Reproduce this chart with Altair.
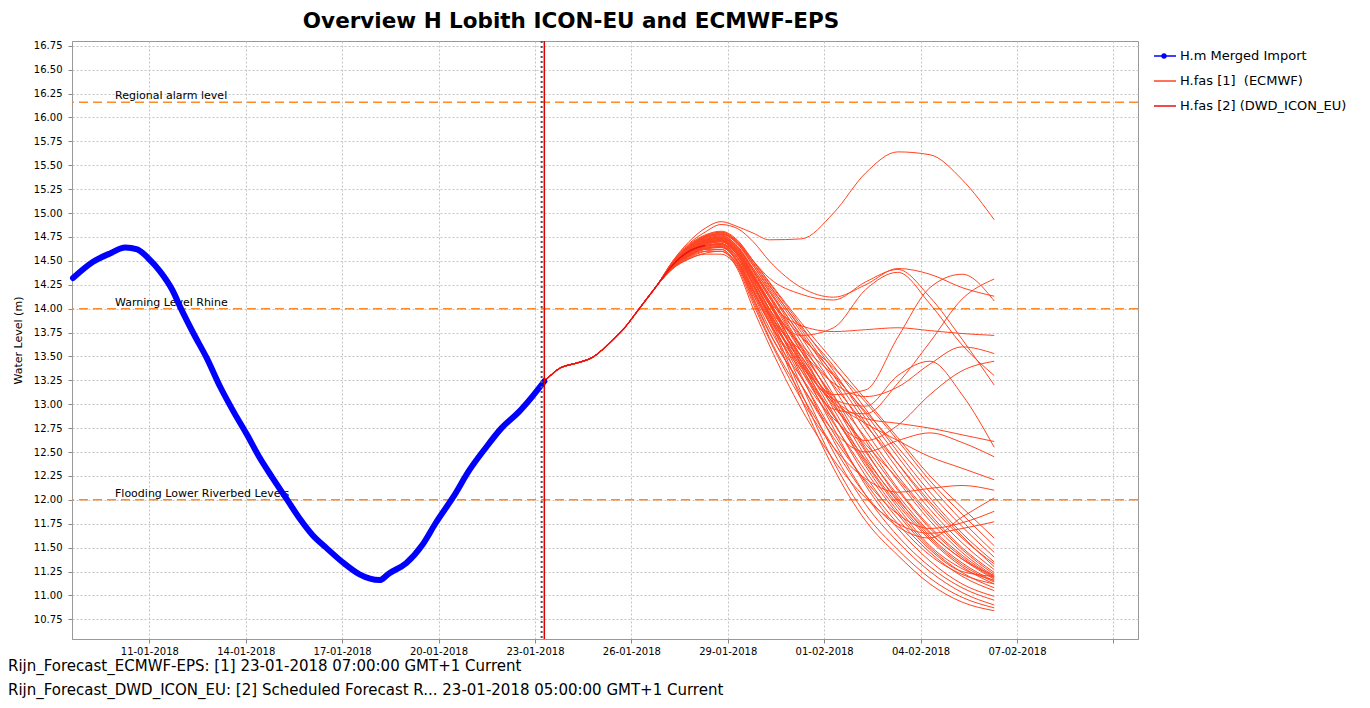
import altair as alt
import pandas as pd

TITLE = "Overview H Lobith ICON-EU and ECMWF-EPS"
SERIES = ["H.m Merged Import", "H.fas [1]\u00a0 (ECMWF)", "H.fas [2] (DWD_ICON_EU)"]
COLORS = ["#0000ff", "#ff4422", "#e81010"]
FONT = "DejaVu Sans"

# Observed water level (H.m Merged Import)
obs_times = ["2018-01-08T15:00", "2018-01-09T06:00", "2018-01-09T19:00", "2018-01-10T06:00",
             "2018-01-10T15:00", "2018-01-10T23:00", "2018-01-11T08:00", "2018-01-11T17:00",
             "2018-01-12T00:00", "2018-01-12T09:00", "2018-01-12T19:00", "2018-01-13T05:00",
             "2018-01-13T15:00", "2018-01-14T01:00", "2018-01-14T10:00", "2018-01-14T20:00",
             "2018-01-15T06:00", "2018-01-15T16:00", "2018-01-16T02:00", "2018-01-16T12:00",
             "2018-01-17T01:00", "2018-01-17T13:00", "2018-01-18T04:00", "2018-01-18T11:00",
             "2018-01-19T00:00", "2018-01-19T12:00", "2018-01-19T22:00", "2018-01-20T11:00",
             "2018-01-20T23:00", "2018-01-21T11:00", "2018-01-21T23:00", "2018-01-22T12:00",
             "2018-01-22T22:00", "2018-01-23T07:00"]
obs_values = [14.32, 14.49, 14.58, 14.64, 14.62, 14.53, 14.39, 14.20,
              13.99, 13.74, 13.48, 13.18, 12.92, 12.68, 12.45, 12.23,
              12.02, 11.81, 11.63, 11.50, 11.34, 11.22, 11.16, 11.23,
              11.34, 11.53, 11.76, 12.03, 12.31, 12.54, 12.75, 12.92,
              13.08, 13.24]

# ECMWF-EPS: common start of all members
trunk_times = ["2018-01-23T07:00", "2018-01-23T19:00", "2018-01-24T07:00", "2018-01-24T19:00",
               "2018-01-25T07:00", "2018-01-25T19:00", "2018-01-26T07:00", "2018-01-26T19:00"]
trunk_values = [13.24, 13.38, 13.43, 13.49, 13.63, 13.80, 14.02, 14.24]

member_times = ["2018-01-27T07:00", "2018-01-27T19:00", "2018-01-28T07:00", "2018-01-28T19:00",
                "2018-01-29T07:00", "2018-01-29T19:00", "2018-01-30T07:00", "2018-01-31T07:00",
                "2018-02-01T07:00", "2018-02-02T07:00", "2018-02-03T07:00", "2018-02-04T07:00",
                "2018-02-05T07:00", "2018-02-06T07:00"]

members_upper = [
    [14.50, 14.70, 14.84, 14.91, 14.86, 14.79, 14.72, 14.73, 15.00, 15.42, 15.64, 15.61, 15.35, 14.93],
    [14.50, 14.68, 14.80, 14.88, 14.84, 14.70, 14.50, 14.22, 14.12, 14.25, 14.42, 14.36, 14.22, 14.13],
    [14.48, 14.64, 14.74, 14.78, 14.70, 14.50, 14.32, 14.15, 14.09, 14.28, 14.41, 14.12, 13.68, 13.20],
    [14.46, 14.59, 14.67, 14.70, 14.57, 14.25, 13.95, 13.50, 13.10, 13.15, 13.70, 14.22, 14.36, 14.08],
    [14.45, 14.57, 14.65, 14.67, 14.52, 14.18, 13.85, 13.35, 12.95, 12.90, 13.22, 13.65, 14.10, 14.31],
    [14.47, 14.63, 14.72, 14.74, 14.62, 14.35, 14.08, 13.82, 13.76, 13.78, 13.80, 13.77, 13.74, 13.72],
    [14.46, 14.59, 14.67, 14.70, 14.57, 14.25, 13.95, 13.55, 13.22, 13.08, 13.18, 13.42, 13.60, 13.53],
    [14.47, 14.61, 14.70, 14.72, 14.60, 14.30, 14.00, 13.72, 13.80, 14.20, 14.38, 14.05, 13.62, 13.30],
    [14.44, 14.55, 14.63, 14.65, 14.50, 14.15, 13.80, 13.28, 12.85, 12.62, 12.78, 13.10, 13.35, 13.45],
]
members_middle = [
    [14.46, 14.60, 14.69, 14.72, 14.58, 14.25, 13.92, 13.45, 13.05, 12.85, 12.80, 12.75, 12.68, 12.61],
    [14.44, 14.56, 14.63, 14.65, 14.48, 14.10, 13.75, 13.20, 12.72, 12.50, 12.62, 12.70, 12.60, 12.45],
    [14.45, 14.58, 14.66, 14.68, 14.54, 14.20, 13.86, 13.40, 13.02, 12.80, 12.62, 12.45, 12.33, 12.21],
    [14.43, 14.53, 14.60, 14.62, 14.44, 14.05, 13.68, 13.05, 12.55, 12.22, 12.08, 12.12, 12.15, 12.10],
    [14.44, 14.57, 14.64, 14.66, 14.50, 14.12, 13.76, 13.20, 12.65, 12.20, 11.85, 11.70, 11.76, 11.88],
    [14.42, 14.52, 14.58, 14.60, 14.42, 14.00, 13.62, 12.95, 12.42, 12.02, 11.75, 11.65, 11.70, 11.77],
    [14.44, 14.55, 14.62, 14.62, 14.46, 14.08, 13.70, 13.10, 12.55, 12.05, 11.72, 11.60, 11.82, 12.02],
    [14.46, 14.60, 14.69, 14.72, 14.58, 14.26, 13.92, 13.42, 13.05, 12.98, 13.30, 13.45, 13.10, 12.55],
]
members_lower = [
    [14.42, 14.52, 14.57, 14.57, 14.44, 14.15, 13.85, 13.05, 12.33, 11.78, 11.42, 11.12, 10.93, 10.84],
    [14.42, 14.54, 14.60, 14.60, 14.47, 14.18, 13.88, 13.12, 12.40, 11.85, 11.48, 11.18, 10.98, 10.87],
    [14.43, 14.56, 14.63, 14.64, 14.50, 14.22, 13.92, 13.20, 12.50, 11.95, 11.56, 11.25, 11.03, 10.90],
    [14.45, 14.59, 14.68, 14.70, 14.56, 14.28, 13.98, 13.30, 12.62, 12.05, 11.62, 11.30, 11.08, 10.95],
    [14.44, 14.57, 14.65, 14.68, 14.57, 14.32, 14.05, 13.40, 12.75, 12.15, 11.70, 11.36, 11.12, 10.99],
    [14.47, 14.62, 14.72, 14.74, 14.62, 14.36, 14.08, 13.45, 12.82, 12.25, 11.80, 11.45, 11.20, 11.05],
    [14.45, 14.60, 14.68, 14.72, 14.60, 14.34, 14.06, 13.48, 12.90, 12.35, 11.88, 11.50, 11.24, 11.08],
    [14.48, 14.64, 14.74, 14.77, 14.65, 14.40, 14.12, 13.55, 12.95, 12.40, 11.95, 11.58, 11.30, 11.12],
    [14.46, 14.61, 14.70, 14.74, 14.64, 14.40, 14.15, 13.60, 13.02, 12.45, 11.98, 11.60, 11.32, 11.14],
    [14.47, 14.63, 14.73, 14.76, 14.66, 14.42, 14.18, 13.65, 13.10, 12.52, 12.02, 11.62, 11.34, 11.15],
    [14.44, 14.58, 14.66, 14.68, 14.54, 14.26, 13.96, 13.38, 12.88, 12.42, 12.00, 11.65, 11.38, 11.17],
    [14.45, 14.60, 14.69, 14.72, 14.60, 14.33, 14.04, 13.50, 13.00, 12.55, 12.10, 11.70, 11.40, 11.18],
    [14.48, 14.65, 14.75, 14.78, 14.68, 14.45, 14.20, 13.70, 13.18, 12.62, 12.12, 11.72, 11.42, 11.19],
    [14.46, 14.62, 14.71, 14.74, 14.62, 14.36, 14.08, 13.55, 13.08, 12.65, 12.20, 11.78, 11.45, 11.20],
    [14.45, 14.59, 14.67, 14.70, 14.57, 14.30, 14.00, 13.45, 12.98, 12.58, 12.22, 11.82, 11.48, 11.22],
    [14.48, 14.64, 14.74, 14.78, 14.68, 14.45, 14.22, 13.75, 13.25, 12.72, 12.25, 11.85, 11.50, 11.24],
    [14.49, 14.66, 14.76, 14.80, 14.70, 14.48, 14.25, 13.78, 13.30, 12.80, 12.32, 11.90, 11.55, 11.27],
    [14.46, 14.61, 14.70, 14.73, 14.61, 14.34, 14.06, 13.60, 13.20, 12.78, 12.38, 11.98, 11.62, 11.30],
    [14.47, 14.63, 14.72, 14.76, 14.65, 14.42, 14.18, 13.72, 13.32, 12.90, 12.45, 12.02, 11.65, 11.35],
    [14.48, 14.65, 14.75, 14.79, 14.69, 14.47, 14.24, 13.80, 13.40, 12.95, 12.50, 12.08, 11.72, 11.40],
    [14.45, 14.60, 14.68, 14.71, 14.59, 14.32, 14.04, 13.62, 13.30, 12.92, 12.55, 12.15, 11.78, 11.45],
    [14.46, 14.62, 14.71, 14.74, 14.63, 14.38, 14.12, 13.70, 13.38, 13.02, 12.62, 12.20, 11.85, 11.52],
    [14.49, 14.67, 14.77, 14.81, 14.72, 14.50, 14.28, 13.85, 13.45, 13.05, 12.65, 12.25, 11.92, 11.60],
    [14.44, 14.57, 14.65, 14.67, 14.54, 14.24, 13.94, 13.35, 12.80, 12.30, 11.85, 11.48, 11.25, 11.20],
    [14.45, 14.59, 14.68, 14.71, 14.58, 14.30, 14.00, 13.42, 12.88, 12.38, 11.92, 11.52, 11.28, 11.16],
    [14.43, 14.55, 14.62, 14.64, 14.50, 14.20, 13.90, 13.28, 12.70, 12.18, 11.75, 11.42, 11.22, 11.12],
    [14.47, 14.63, 14.72, 14.75, 14.64, 14.40, 14.14, 13.58, 13.05, 12.50, 12.05, 11.66, 11.38, 11.21],
    [14.49, 14.66, 14.76, 14.80, 14.71, 14.50, 14.27, 13.82, 13.35, 12.85, 12.38, 11.95, 11.60, 11.33],
]

# DWD ICON-EU deterministic run
dwd_times = ["2018-01-23T07:00", "2018-01-23T19:00", "2018-01-24T07:00", "2018-01-24T19:00",
             "2018-01-25T07:00", "2018-01-25T19:00", "2018-01-26T07:00", "2018-01-26T19:00",
             "2018-01-27T07:00", "2018-01-27T19:00", "2018-01-28T07:00"]
dwd_values = [13.24, 13.38, 13.43, 13.49, 13.63, 13.80, 14.02, 14.24, 14.46, 14.60, 14.66]

# Threshold levels
thr_names = ["Regional alarm level", "Warning Level Rhine", "Flooding Lower Riverbed Levels"]
thr_values = [16.16, 14.00, 12.00]

# Forecast times
t0_ecmwf = "2018-01-23T07:00"
t0_dwd = "2018-01-23T05:00"

y_ticks = [10.75, 11.00, 11.25, 11.50, 11.75, 12.00, 12.25, 12.50, 12.75, 13.00, 13.25, 13.50,
           13.75, 14.00, 14.25, 14.50, 14.75, 15.00, 15.25, 15.50, 15.75, 16.00, 16.25, 16.50, 16.75]
x_tick_days = [(1, 11), (1, 14), (1, 17), (1, 20), (1, 23), (1, 26), (1, 29),
               (2, 1), (2, 4), (2, 7), (2, 10)]

notes = ("Rijn_Forecast_ECMWF-EPS: [1] 23-01-2018 07:00:00 GMT+1 Current\n"
         "Rijn_Forecast_DWD_ICON_EU: [2] Scheduled Forecast R... 23-01-2018 05:00:00 GMT+1 Current")

# ---- tables ----
obs_df = pd.DataFrame({"time": obs_times, "value": obs_values, "series": SERIES[0]})

rows = []
all_members = members_upper + members_middle + members_lower
for i, vals in enumerate(all_members):
    for t, v in zip(trunk_times, trunk_values):
        rows.append({"time": t, "value": v, "member": f"m{i:02d}", "series": SERIES[1]})
    for t, v in zip(member_times, vals):
        rows.append({"time": t, "value": v, "member": f"m{i:02d}", "series": SERIES[1]})
ens_df = pd.DataFrame(rows)
dwd_df = pd.DataFrame({"time": dwd_times, "value": dwd_values, "series": SERIES[2]})
thr_df = pd.DataFrame({"name": thr_names, "value": thr_values})
t0_df = pd.DataFrame({"time": [t0_ecmwf]})
dwd0_df = pd.DataFrame({"time": [t0_dwd]})
notes_df = pd.DataFrame({"txt": [notes]})
legend_dot_df = pd.DataFrame({"series": [SERIES[0]]})

x_scale = alt.Scale(domain=[alt.DateTime(year=2018, month=1, date=8, hours=14, minutes=15),
                            alt.DateTime(year=2018, month=2, date=10, hours=18, minutes=23)])
x_axis = alt.Axis(values=[alt.DateTime(year=2018, month=m, date=d) for m, d in x_tick_days],
                  format="%d-%m-%Y", title=None, grid=True,
                  labelExpr="timeFormat(datum.value, '%d-%m') == '10-02' ? '' : datum.label",
                  labelPadding=3)
y_scale = alt.Scale(domain=[10.544, 16.80], nice=False, zero=False)
y_axis = alt.Axis(values=y_ticks, format=".2f", title="Water Level (m)", grid=True,
                  titleX=-54, titleY=299, titleAngle=270, titleAlign="center",
                  titleBaseline="middle", labelPadding=6)

X = alt.X("time:T", scale=x_scale, axis=x_axis)
Y = alt.Y("value:Q", scale=y_scale, axis=y_axis)

color = alt.Color("series:N", scale=alt.Scale(domain=SERIES, range=COLORS),
                  legend=alt.Legend(title=None, orient="none", legendX=1081, legendY=3,
                                    symbolType="stroke", symbolSize=484, symbolStrokeWidth=1.5,
                                    labelFont=FONT, labelFontSize=13, labelColor="#000",
                                    labelOffset=3, rowPadding=6, padding=0, labelLimit=300))

thr_rules = alt.Chart(thr_df).mark_rule(color="#ff8a2a", strokeWidth=1.5, strokeDash=[9, 5]).encode(
    y=Y)
thr_text = alt.Chart(thr_df).mark_text(align="left", baseline="alphabetic", dy=-3, font=FONT,
                                       fontSize=11, color="#000").encode(
    x=alt.value(43), y=Y, text="name:N")

ens = alt.Chart(ens_df).mark_line(strokeWidth=1, interpolate="monotone").encode(
    x=X, y=Y, color=color, detail="member:N")
dwd = alt.Chart(dwd_df).mark_line(strokeWidth=1.5, interpolate="monotone").encode(
    x=X, y=Y, color=color)
obs = alt.Chart(obs_df).mark_line(strokeWidth=6, interpolate="monotone", strokeCap="round").encode(
    x=X, y=Y, color=color)

dwd_rule = alt.Chart(dwd0_df).mark_rule(color="#555555", strokeWidth=2, strokeDash=[2, 3]).encode(x=X)
t0_rule = alt.Chart(t0_df).mark_rule(color="#e00000", strokeWidth=1.5).encode(x=X)

# blue marker dot on the legend's observed-series symbol
legend_dot = alt.Chart(legend_dot_df).mark_point(filled=True, size=28, opacity=1, color="#0000ff").encode(
    x=alt.value(1092), y=alt.value(15))

notes_text = alt.Chart(notes_df).mark_text(align="left", baseline="top", font=FONT, fontSize=15,
                                           lineBreak="\n", lineHeight=24, color="#000").encode(
    x=alt.value(-64), y=alt.value(618), text="txt:N")

chart = alt.layer(thr_rules, thr_text, ens, dwd, obs, dwd_rule, t0_rule, legend_dot,
                  notes_text).properties(
    width=1066, height=598,
    title=alt.TitleParams(TITLE, anchor="middle", frame="group", dx=-34, offset=8,
                          font=FONT, fontSize=21.5, fontWeight="bold", color="#000"),
    autosize=alt.AutoSizeParams(type="none"),
    padding={"left": 64, "top": 33, "right": 224, "bottom": 61},
).configure_axis(
    labelFont=FONT, labelFontSize=10, labelColor="#000", tickColor="#888888", tickSize=4,
    domainColor="#999999", gridColor="#c4c4c4", gridDash=[2, 2], titleFont=FONT,
    titleFontSize=11, titleFontWeight="normal", titleColor="#000"
).configure_view(stroke="#999999", strokeWidth=1)

chart.save("out.html", embed_options={"renderer": "svg", "actions": False})
